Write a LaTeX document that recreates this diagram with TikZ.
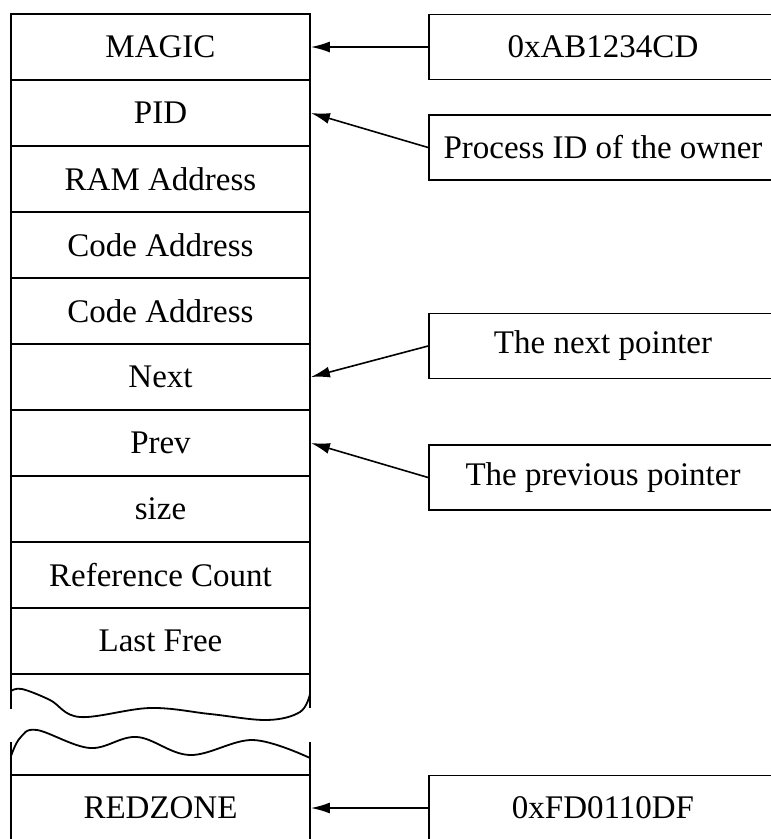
\documentclass[tikz,border=0pt]{standalone}
\usepackage{fontspec}
\setmainfont{Liberation Serif}
\usetikzlibrary{arrows.meta}
\begin{document}
\begin{tikzpicture}[x=1pt,y=-1pt,
  every node/.style={font=\fontsize{33}{40}\selectfont, inner sep=0pt},
  cell/.style={draw, line width=1.8pt, minimum width=299pt, minimum height=66pt, anchor=center},
  note/.style={draw, line width=1.8pt, minimum width=348pt, minimum height=65pt, anchor=center},
  ptr/.style={line width=1.6pt, -{Latex[length=19pt,width=11pt]}},
  brk/.style={line width=1.8pt}]
\useasboundingbox (0,0) rectangle (771,839);
\clip (0,0) rectangle (771,839);
% column cells
\node[cell] (magic) at (160.5,47) {MAGIC};
\node[cell] (pid) at (160.5,113) {PID};
\node[cell] (ram) at (160.5,179) {RAM Address};
\node[cell] (code1) at (160.5,245) {Code Address};
\node[cell] (code2) at (160.5,311) {Code Address};
\node[cell] (next) at (160.5,377) {Next};
\node[cell] (prev) at (160.5,443) {Prev};
\node[cell] (size) at (160.5,509) {size};
\node[cell] (refc) at (160.5,575) {Reference Count};
\node[cell] (last) at (160.5,641) {Last Free};
\node[cell] (red) at (160.5,808) {REDZONE};
% break
\draw[brk] (11,674) -- (11,709);
\draw[brk] (310,674) -- (310,708);
\draw[brk] plot[smooth, tension=0.6] coordinates {(11,691) (22,689) (50,700) (80,717) (150,708) (210,714) (267,720) (300,712) (310,694)};
\draw[brk] (11,742) -- (11,775);
\draw[brk] (310,742) -- (310,775);
\draw[brk] plot[smooth, tension=0.6] coordinates {(11,756) (20,738) (37,730) (90,748) (137,737) (190,755) (253,740) (310,758)};
% notes
\node[note] (nmagic) at (603,47) {0xAB1234CD};
\node[note] (npid) at (603,147.5) {Process ID of the owner};
\node[note] (nnext) at (603,346) {The next pointer};
\node[note] (nprev) at (603,477.5) {The previous pointer};
\node[note] (nred) at (603,808) {0xFD0110DF};
% pointers
\draw[ptr] (nmagic.west) -- (magic.east);
\draw[ptr] (npid.west) -- (pid.east);
\draw[ptr] (nnext.west) -- (next.east);
\draw[ptr] (nprev.west) -- (prev.east);
\draw[ptr] (nred.west) -- (red.east);
\end{tikzpicture}
\end{document}
